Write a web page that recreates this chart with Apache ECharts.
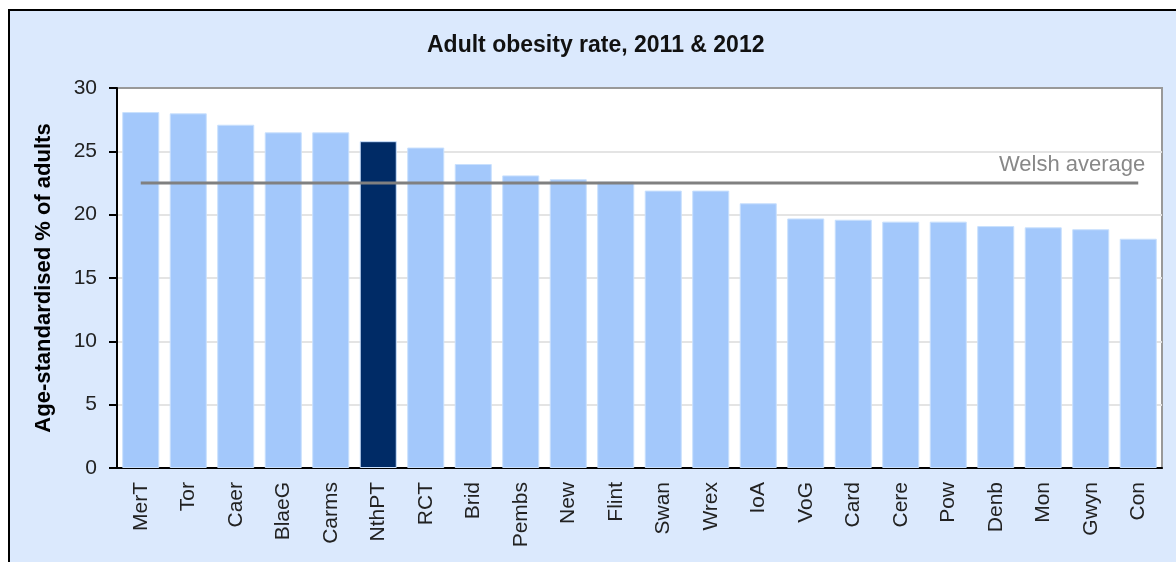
<!DOCTYPE html>
<html>
<head>
<meta charset="utf-8">
<script src="https://cdn.jsdelivr.net/npm/echarts@6/dist/echarts.min.js"></script>
<style>html,body{margin:0;padding:0;background:#fff}#c{width:1176px;height:562px}</style>
</head>
<body>
<div id="c"></div>
<script>
var categories = ['MerT','Tor','Caer','BlaeG','Carms','NthPT','RCT','Brid','Pembs','New','Flint','Swan','Wrex','IoA','VoG','Card','Cere','Pow','Denb','Mon','Gwyn','Con'];
var obesityRate = [28.1,28.0,27.1,26.5,26.5,25.8,25.3,24.0,23.1,22.8,22.6,21.9,21.9,20.9,19.7,19.6,19.45,19.45,19.1,19.0,18.85,18.1];
var welshAverage = [22.5,22.5,22.5,22.5,22.5,22.5,22.5,22.5,22.5,22.5,22.5,22.5,22.5,22.5,22.5,22.5,22.5,22.5,22.5,22.5,22.5,22.5];
var highlighted = 'NthPT';
var yTicks = [0,5,10,15,20,25,30];

var FONT = '"Liberation Sans", Arial, sans-serif';
var chart = echarts.init(document.getElementById('c'), null, {renderer:'canvas'});
var option = {
  backgroundColor: '#ffffff',
  animation: false,
  graphic: [{
    type: 'rect', z: -10, silent: true,
    shape: {x: 9, y: 10, width: 1200, height: 600},
    style: {fill: '#dbe9fd', stroke: '#000', lineWidth: 2}
  }],
  title: {
    text: 'Adult obesity rate, 2011 & 2012',
    left: 422, top: 29,
    textStyle: {fontFamily: FONT, fontSize: 23, fontWeight: 'bold', color: '#111'}
  },
  grid: {
    left: 117, top: 88, right: 14, bottom: 94,
    show: true, backgroundColor: '#ffffff', borderColor: '#999', borderWidth: 2,
    containLabel: false
  },
  xAxis: {
    type: 'category', data: categories,
    axisLine: {show: true, lineStyle: {color: '#000', width: 2}},
    axisTick: {show: false},
    axisLabel: {rotate: 90, margin: 14, interval: 0, fontFamily: FONT, fontSize: 21, color: '#222'},
    splitLine: {show: false}
  },
  yAxis: {
    type: 'value', min: yTicks[0], max: yTicks[yTicks.length-1], interval: 5,
    name: 'Age-standardised % of adults', nameLocation: 'middle', nameGap: 62, nameRotate: 90,
    nameTextStyle: {fontFamily: FONT, fontSize: 22, fontWeight: 'bold', color: '#000'},
    axisLine: {show: true, lineStyle: {color: '#000', width: 2}},
    axisTick: {show: true, inside: false, length: 8, lineStyle: {color: '#000', width: 2}},
    axisLabel: {margin: 20, fontFamily: FONT, fontSize: 21, color: '#222'},
    splitLine: {show: true, lineStyle: {color: ['#e4e4e4','#e4e4e4','#e4e4e4','#e4e4e4','#e4e4e4','#e4e4e4','#999'], width: 2}}
  },
  series: [{
    type: 'bar', data: obesityRate, barCategoryGap: '22%', z: 2,
    itemStyle: {
      color: function (p) { return categories[p.dataIndex] === highlighted ? '#002b66' : '#a3c8fb'; },
      borderColor: '#c9e0fd', borderWidth: 1
    }
  }, {
    type: 'line', data: welshAverage, symbol: 'none', z: 5,
    itemStyle: {color: '#808080'},
    lineStyle: {color: '#808080', width: 3},
    endLabel: {
      show: true, formatter: 'Welsh average', distance: 0,
      align: 'right', verticalAlign: 'bottom', offset: [7, -7],
      fontFamily: FONT, fontSize: 22, color: '#888'
    }
  }]
};
chart.setOption(option);
</script>
</body>
</html>
